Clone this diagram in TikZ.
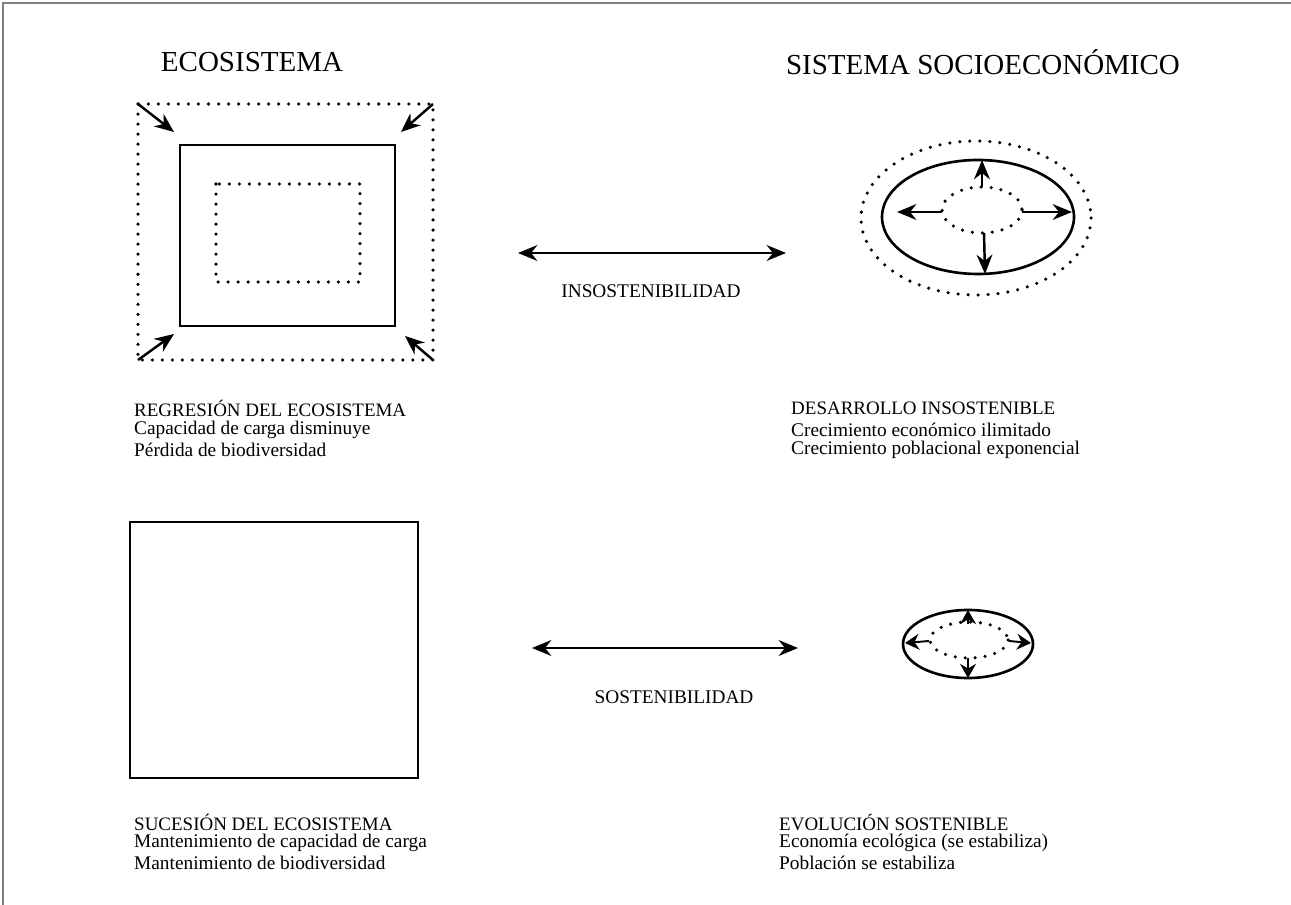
\documentclass[tikz,border=0pt]{standalone}
\usepackage{fontspec}
\setmainfont{Liberation Serif}
\usetikzlibrary{arrows.meta}

\tikzset{
  titulo/.style={font=\fontsize{16.5}{18}\selectfont},
  cabecera/.style={anchor=west, font=\fontsize{10.8}{13}\selectfont},
  texto/.style={anchor=west, font=\fontsize{11}{12}\selectfont},
  punteado/.style={line width=2pt, dash pattern=on 0pt off 5.7pt, line cap=round},
  solido/.style={line width=1.5pt},
  flecha/.style={line width=1.4pt, -{Stealth[length=11pt,width=9pt]}},
  flechita/.style={line width=1.1pt, -{Stealth[length=8pt,width=9pt]}},
  dobleflecha/.style={line width=1.2pt, {Stealth[length=11pt,width=9pt]}-{Stealth[length=11pt,width=9pt]}}
}

\begin{document}
\begin{tikzpicture}[x=0.02cm, y=-0.02cm]
	\useasboundingbox (0,0) rectangle (1291,905);
	% marco
	\draw[gray, line width=1.2pt] (3,905) -- (3,3) -- (1291,3);

	% Titulos
	\node[titulo] (eco) at (252,62) {ECOSISTEMA};
	\node[titulo] (soc) at (983,62) {SISTEMA SOCIOECON\'OMICO};

	% Regresion del ecosistema
	\draw[punteado] (138,104) rectangle (433,360);
	\draw[solido] (180,145) rectangle (395,326);
	\draw[punteado] (216,184) rectangle (360,282);
	\coordinate (c1) at (138,104); \coordinate (c2) at (433,104);
	\coordinate (c3) at (138,360); \coordinate (c4) at (433,360);
	\coordinate (d1) at (174,132); \coordinate (d2) at (401,132);
	\coordinate (d3) at (174,334); \coordinate (d4) at (405,336);
	\draw[flecha] (c1) -- (d1);
	\draw[flecha] (c2) -- (d2);
	\draw[flecha] (c3) -- (d3);
	\draw[flecha] (c4) -- (d4);
	\node[cabecera] (reg) at (128,408) {REGRESI\'ON DEL ECOSISTEMA};
	\node[texto] (reg1) at (128,430) {Capacidad de carga disminuye};
	\node[texto] (reg2) at (128,450) {P\'erdida de biodiversidad};

	% Insostenibilidad
	\coordinate (i1) at (518,253); \coordinate (i2) at (786,253);
	\draw[dobleflecha] (i1) -- (i2);
	\node[font=\fontsize{11}{13}\selectfont] (ins) at (651,291) {INSOSTENIBILIDAD};

	% Desarrollo insostenible
	\draw[punteado] (976,218) ellipse [x radius=115, y radius=77];
	\draw[solido] (978,217) ellipse [x radius=96, y radius=57];
	\draw[punteado] (982,210) ellipse [x radius=40, y radius=23];
	\draw[flecha] (982,187) -- (982,160);
	\draw[flecha] (942,212) -- (897,212);
	\draw[flecha] (1022,212) -- (1072,212);
	\draw[flecha] (984,233) -- (985,274);
	\node[cabecera] (des) at (785,408) {DESARROLLO INSOSTENIBLE};
	\node[texto] (des1) at (785,430) {Crecimiento econ\'omico ilimitado};
	\node[texto] (des2) at (785,450) {Crecimiento poblacional exponencial};

	% Sucesion del ecosistema
	\draw[solido] (130,522) rectangle (418,778);
	\node[cabecera] (suc) at (128,822) {SUCESI\'ON DEL ECOSISTEMA};
	\node[texto] (suc1) at (128,843) {Mantenimiento de capacidad de carga};
	\node[texto] (suc2) at (128,863) {Mantenimiento de biodiversidad};

	% Sostenibilidad
	\coordinate (s1) at (532,648); \coordinate (s2) at (798,648);
	\draw[dobleflecha] (s1) -- (s2);
	\node[font=\fontsize{11}{13}\selectfont] (sos) at (674,697) {SOSTENIBILIDAD};

	% Evolucion sostenible
	\draw[solido] (968,644) ellipse [x radius=65, y radius=34];
	\draw[punteado] (969,640) ellipse [x radius=39, y radius=18];
	\draw[flechita] (968,624) -- (968,610);
	\draw[flechita] (929,641) -- (905,643);
	\draw[flechita] (1009,641) -- (1031,643);
	\draw[flechita] (968,658) -- (968,678);
	\node[cabecera] (evo) at (773,822) {EVOLUCI\'ON SOSTENIBLE};
	\node[texto] (evo1) at (773,843) {Econom\'ia ecol\'ogica (se estabiliza)};
	\node[texto] (evo2) at (773,863) {Poblaci\'on se estabiliza};
\end{tikzpicture}
\end{document}
